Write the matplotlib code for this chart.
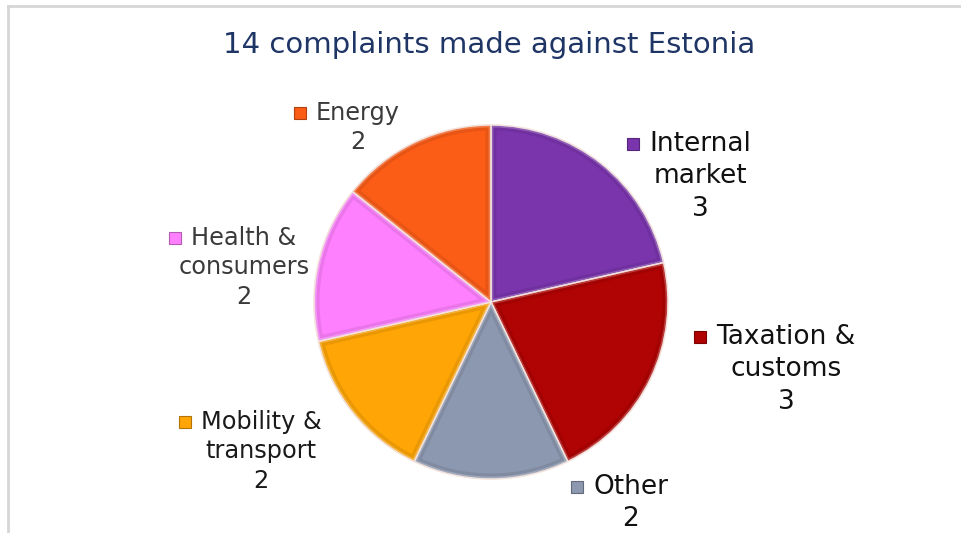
import matplotlib.pyplot as plt
import matplotlib.colors as mcolors
from matplotlib.patches import Rectangle, Wedge
from matplotlib.lines import Line2D

# complaints by policy area, clockwise from 12 o'clock
categories = ["Internal\nmarket", "Taxation &\ncustoms", "Other",
              "Mobility &\ntransport", "Health &\nconsumers", "Energy"]
counts = [3, 3, 2, 2, 2, 2]
colors = ["#7a35ad", "#b00303", "#8c98b0", "#ffa505", "#ff80ff", "#fb5c16"]
title = f"{sum(counts)} complaints made against Estonia"

# canvas in pixel units, y measured upwards
W, H = 962, 533
cx, cy, r = 491, H - 302, 177

# label block anchors (x, y of first text line) and their font sizes
label_pos = [(700, H - 144), (786, H - 337), (631, H - 487),
             (261, H - 422), (244, H - 238), (358, H - 113)]
label_size = [19, 19, 19, 17.3, 17.3, 17.3]
label_color = ["#111111", "#111111", "#111111", "#1a1a1a", "#3a3a3a", "#3a3a3a"]

fig = plt.figure(figsize=(W / 100, H / 100), dpi=100)
ax = fig.add_axes([0, 0, 1, 1])

wedges, _ = ax.pie(counts, colors=colors, startangle=90, counterclock=False,
                   center=(cx, cy), radius=r,
                   wedgeprops=dict(edgecolor="#f4e4de", linewidth=1.0))
ax.set_xlim(0, W)
ax.set_ylim(0, H)
ax.set_aspect("equal")
ax.axis("off")

# bevel: soft dark outer rim + light inner rim, clipped to each wedge
for w, c in zip(wedges, colors):
    rgb = mcolors.to_rgb(c)
    light = tuple(min(1, v + (1 - v) * 0.45) for v in rgb)
    dark = tuple(v * 0.6 for v in rgb)
    for col, lw, a in [(dark, 8, 0.2), (light, 3.5, 0.5)]:
        rim = Wedge(w.center, w.r, w.theta1, w.theta2, facecolor="none",
                    edgecolor=col, linewidth=lw, alpha=a)
        ax.add_patch(rim)
        rim.set_clip_path(w)
    # thin light seam on top of the rims
    seam = Wedge(w.center, w.r, w.theta1, w.theta2, facecolor="none",
                 edgecolor="#f4e4de", linewidth=0.9)
    ax.add_patch(seam)

fig.canvas.draw()

# outside labels with a small colour key square before the first line
for text, n, (x, y), fs, tc, c in zip(categories, counts, label_pos,
                                       label_size, label_color, colors):
    lines = text.split("\n") + [str(n)]
    lh = fs * 1.7
    t = ax.text(x, y, lines[0], ha="center", va="center", fontsize=fs,
                color=tc, family="DejaVu Sans")
    for i, ln in enumerate(lines[1:], start=1):
        ax.text(x, y - i * lh, ln, ha="center", va="center", fontsize=fs,
                color=tc, family="DejaVu Sans")
    bb = t.get_window_extent(renderer=fig.canvas.get_renderer())
    x0 = ax.transData.inverted().transform((bb.x0, 0))[0]
    sq = 12
    edge = tuple(v * 0.7 for v in mcolors.to_rgb(c))
    ax.add_patch(Rectangle((x0 - sq - 10, y - sq / 2), sq, sq,
                           facecolor=c, edgecolor=edge, linewidth=0.8))

ax.text(W / 2 + 8, H - 45, title, ha="center", va="center", fontsize=21,
        color="#1f3566", family="DejaVu Sans")

# light frame along the top and left edges
fig.add_artist(Line2D([8 / W, 1], [1 - 6 / H, 1 - 6 / H], color="#d6d6d6", lw=2))
fig.add_artist(Line2D([8 / W, 8 / W], [0, 1 - 6 / H], color="#d6d6d6", lw=2))

fig.savefig("out.png", dpi=100, facecolor="white")
